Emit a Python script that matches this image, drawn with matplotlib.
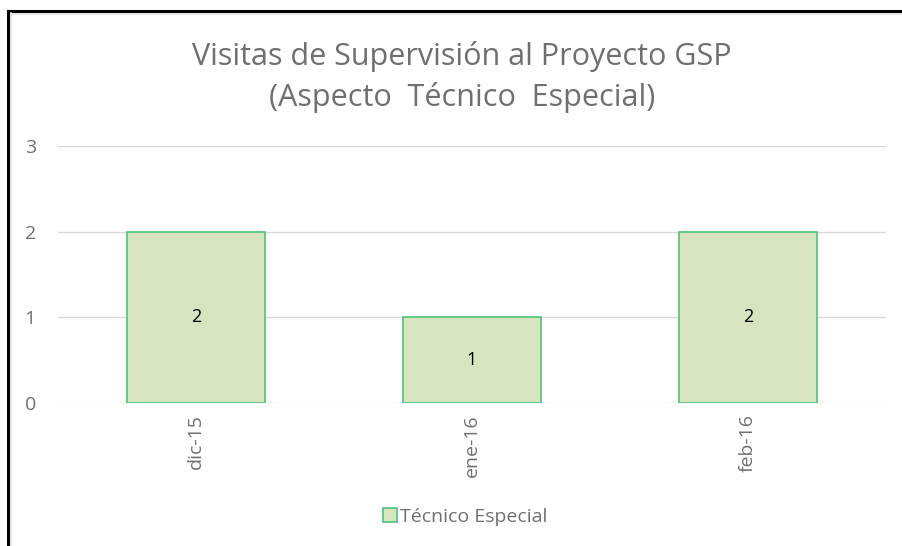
import matplotlib
matplotlib.use("Agg")
import matplotlib.pyplot as plt
from matplotlib.lines import Line2D
from matplotlib.patches import Patch

categories = ["dic-15", "ene-16", "feb-16"]
values = [2, 1, 2]
series_name = "Técnico Especial"
title = "Visitas de Supervisión al Proyecto GSP\n(Aspecto  Técnico  Especial)"
yticks = [0, 1, 2, 3]

plt.rcParams['font.family'] = ['Open Sans', 'DejaVu Sans']
gray = "#6f6f6f"
face = "#d7e4bd"
edge = "#4cc47a"

fig = plt.figure(figsize=(9.02, 5.46), dpi=100)
ax = fig.add_axes([58/902, 1-403/546, (886-58)/902, (403-146)/546])

x = list(range(len(categories)))
bars = ax.bar(x, values, width=0.5, color=face, edgecolor=edge, linewidth=1.2, zorder=3,
              label=series_name)
for b, v in zip(bars, values):
    ax.text(b.get_x() + b.get_width()/2, v/2, str(v), ha="center", va="center",
            fontsize=13, color="black", zorder=4)

ax.set_xlim(-0.5, len(categories)-0.5)
ax.set_ylim(0, 3)
ax.set_yticks(yticks)
ax.set_yticklabels([str(t) for t in yticks], fontsize=14, color=gray)
ax.set_xticks(x)
ax.set_xticklabels(categories, rotation=90, fontsize=14, color=gray)
ax.tick_params(axis="both", length=0)
ax.tick_params(axis="y", pad=16)
ax.tick_params(axis="x", pad=8)
ax.grid(axis="y", color="#d9d9d9", linewidth=1, zorder=0)
for s in ax.spines.values():
    s.set_visible(False)

fig.text(462/902, 1-77/546, title, ha="center", va="center", fontsize=22,
         color=gray, linespacing=1.45)

handle = Patch(facecolor=face, edgecolor=edge, linewidth=1.2)
fig.legend([handle], [series_name], loc="center", bbox_to_anchor=(465/902, 1-517/546),
           frameon=False, fontsize=14, labelcolor=gray, handlelength=0.75, handleheight=0.75,
           handletextpad=0.15)

# chart frame
fig.add_artist(Line2D([8/902, 8/902], [0, 1-11/546], transform=fig.transFigure,
                      color="black", linewidth=2.2))
fig.add_artist(Line2D([8/902, 1], [1-11/546, 1-11/546], transform=fig.transFigure,
                      color="black", linewidth=2.2))
fig.add_artist(Line2D([10.5/902, 10.5/902], [0, 1-13/546], transform=fig.transFigure,
                      color="#e0e0e0", linewidth=1.2))
fig.add_artist(Line2D([10.5/902, 1], [1-13.5/546, 1-13.5/546], transform=fig.transFigure,
                      color="#e0e0e0", linewidth=1.2))

fig.savefig("out.png", dpi=100)
